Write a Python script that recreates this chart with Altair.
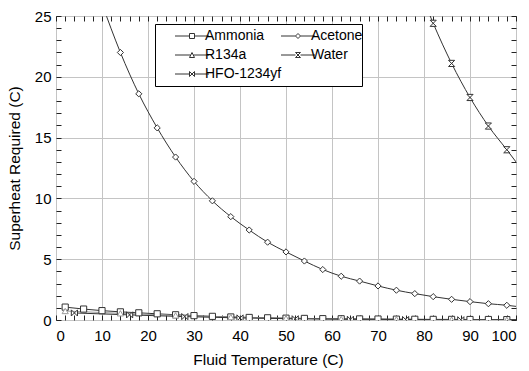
import altair as alt
import pandas as pd

FONT = "Liberation Sans"

series_names = ["Ammonia", "Acetone", "R134a", "Water", "HFO-1234yf"]
# legend columns
legend_col1 = ["Ammonia", "R134a", "HFO-1234yf"]
legend_col2 = ["Acetone", "Water"]

# marker data (temperature C, superheat C)
ammonia_t = [2, 6, 10, 14, 18, 22, 26, 30, 34, 38, 42, 46, 50, 54, 58, 62, 66, 70, 74, 78, 82, 86, 90, 94, 98]
ammonia_v = [1.06, 0.90, 0.77, 0.67, 0.59, 0.51, 0.43, 0.36, 0.30, 0.25, 0.21, 0.18, 0.15, 0.13, 0.11, 0.10, 0.09, 0.08, 0.07, 0.06, 0.05, 0.05, 0.04, 0.04, 0.03]

acetone_t = [10, 14, 18, 22, 26, 30, 34, 38, 42, 46, 50, 54, 58, 62, 66, 70, 74, 78, 82, 86, 90, 94, 98]
acetone_v = [26.0, 22.0, 18.6, 15.8, 13.4, 11.4, 9.8, 8.5, 7.4, 6.4, 5.6, 4.85, 4.15, 3.6, 3.2, 2.8, 2.45, 2.17, 1.92, 1.70, 1.51, 1.34, 1.21]

r134a_t = [2, 14, 26, 38, 50, 62, 74, 86, 98]
r134a_v = [0.74, 0.55, 0.38, 0.24, 0.14, 0.08, 0.05, 0.03, 0.02]

water_t = [78, 82, 86, 90, 94, 98]
water_v = [28.2, 24.4, 21.1, 18.3, 15.95, 14.0]

hfo_t = [4, 16, 28, 40, 52, 64, 76, 88]
hfo_v = [0.58, 0.42, 0.28, 0.17, 0.10, 0.06, 0.04, 0.02]

# line continuation points (no marker)
line_end_series = ["Acetone", "Water", "R134a", "HFO-1234yf", "Ammonia"]
line_end_t = [100, 100, 100, 100, 100]
line_end_v = [1.12, 13.0, 0.02, 0.02, 0.03]

rows = []
for name, ts, vs in [("Ammonia", ammonia_t, ammonia_v), ("Acetone", acetone_t, acetone_v),
                     ("R134a", r134a_t, r134a_v), ("Water", water_t, water_v),
                     ("HFO-1234yf", hfo_t, hfo_v)]:
    for t, v in zip(ts, vs):
        rows.append({"series": name, "temp": t, "value": v, "marker": True})
for name, t, v in zip(line_end_series, line_end_t, line_end_v):
    rows.append({"series": name, "temp": t, "value": v, "marker": False})
df = pd.DataFrame(rows)

x_scale = alt.Scale(domain=[0, 100], nice=False, zero=False)
y_scale = alt.Scale(domain=[0, 25], nice=False, zero=False)
stroke_scale = alt.Scale(domain=series_names, range=["#333333", "#333333", "#999999", "#333333", "#333333"])

# marker shapes
water_path = "M-1,-1L1,-1L-1,1L1,1Z"
hfo_path = "M-1,-1L-1,1L1,-1L1,1Z"
marker_shapes = ["square", "diamond", "triangle-up", water_path, hfo_path]

# legend symbols: line with marker in the middle (units of 5px at size 100)
L, R, c, h = 1.6, 8.4, 5.0, 0.5
def seg(a, b):
    return f"M{L},0H{a}M{b},0H{R}"
leg_shape = {
    "Ammonia": seg(c - h, c + h) + f"M{c-h},{-h}H{c+h}V{h}H{c-h}Z",
    "Acetone": seg(c - h, c + h) + f"M{c-h},0L{c},{-h}L{c+h},0L{c},{h}Z",
    "R134a": seg(c - 0.3, c + 0.3) + f"M{c-h},{h}L{c},{-h}L{c+h},{h}Z",
    "Water": seg(c - h, c + h) + f"M{c-h},{-h}L{c+h},{-h}L{c-h},{h}L{c+h},{h}Z",
    "HFO-1234yf": seg(c - h, c + h) + f"M{c-h},{-h}L{c-h},{h}L{c+h},{-h}L{c+h},{h}Z",
}

base = alt.Chart(df)

main_x_axis = alt.Axis(orient="bottom", values=list(range(0, 101, 10)), grid=True, ticks=False,
                       domain=False, labelPadding=8, title="Fluid Temperature (C)",
                       titleX=212, titleY=44, titleBaseline="alphabetic", titleAnchor="middle")
main_y_axis = alt.Axis(orient="left", values=list(range(0, 26, 5)), grid=True, ticks=False,
                       domain=False, labelPadding=5, title="Superheat Required (C)",
                       titleX=-42, titleY=152, titleBaseline="middle", titleAngle=270)

lines = base.mark_line(clip=True, interpolate="monotone", strokeWidth=1).encode(
    x=alt.X("temp:Q", scale=x_scale, axis=main_x_axis),
    y=alt.Y("value:Q", scale=y_scale, axis=main_y_axis),
    stroke=alt.Stroke("series:N", scale=stroke_scale, legend=None),
    detail="series:N",
)

tick_common = dict(labels=False, grid=False, domain=False, tickSize=5, offset=-5,
                   tickColor="#222222", title=None)

points = base.transform_filter("datum.marker").mark_point(
    clip=True, filled=True, fill="white", size=38, strokeWidth=1, opacity=1
).encode(
    x=alt.X("temp:Q", scale=x_scale, axis=alt.Axis(orient="bottom", values=list(range(0, 101, 2)), **tick_common)),
    y=alt.Y("value:Q", scale=y_scale, axis=alt.Axis(orient="left", values=list(range(0, 26, 1)), **tick_common)),
    shape=alt.Shape("series:N", scale=alt.Scale(domain=series_names, range=marker_shapes), legend=None),
    stroke=alt.Stroke("series:N", scale=stroke_scale, legend=None),
)

legend_common = dict(
    orient="none", rowPadding=5, padding=5, cornerRadius=0,
    labelFont=FONT, labelFontSize=14, labelColor="black", labelOffset=31,
    symbolSize=100, symbolStrokeWidth=1, symbolOpacity=1,
    symbolStrokeColor="#333333", symbolFillColor="white",
)

# first legend column, carrying the frame of the whole legend box
legend_a = base.transform_filter(
    alt.FieldOneOfPredicate(field="series", oneOf=legend_col1)
).transform_filter("datum.marker").mark_point(opacity=0, size=100).encode(
    x=alt.X("temp:Q", scale=x_scale, axis=alt.Axis(orient="top", values=list(range(0, 101, 2)), **tick_common)),
    y=alt.Y("value:Q", scale=y_scale, axis=alt.Axis(orient="right", values=list(range(0, 26, 1)), **tick_common)),
    shape=alt.Shape(
        "series:N",
        scale=alt.Scale(domain=legend_col1, range=[leg_shape[n] for n in legend_col1]),
        legend=alt.Legend(
            title=" ", titleOrient="right", titlePadding=76, titleFontSize=14,
            legendX=99, legendY=8, strokeColor="black", fillColor="white",
            **legend_common,
        ),
    ),
)

# second legend column
legend_b = base.transform_filter(
    alt.FieldOneOfPredicate(field="series", oneOf=legend_col2)
).transform_filter("datum.marker").mark_point(opacity=0, size=100).encode(
    x=alt.X("temp:Q", scale=x_scale, axis=None),
    y=alt.Y("value:Q", scale=y_scale, axis=None),
    shape=alt.Shape(
        "series:N",
        scale=alt.Scale(domain=legend_col2, range=[leg_shape[n] for n in legend_col2]),
        legend=alt.Legend(
            title=None, legendX=205, legendY=8, **legend_common,
        ),
    ),
)

chart = alt.layer(lines, points, legend_a, legend_b).resolve_scale(
    shape="independent"
).resolve_axis(
    x="independent", y="independent"
).properties(
    width=460, height=304,
    autosize=alt.AutoSizeParams(type="none"),
    padding={"left": 56, "top": 16, "right": 13, "bottom": 51},
    background="white",
).configure_view(
    stroke="black", strokeWidth=1
).configure_axis(
    labelFont=FONT, labelFontSize=15, labelColor="black",
    titleFont=FONT, titleFontSize=15.5, titleColor="black", titleFontWeight="normal",
    gridColor="#c4c4c4", gridWidth=1, gridOpacity=1,
)

chart.save("out.html", embed_options={"renderer": "svg", "actions": False})
